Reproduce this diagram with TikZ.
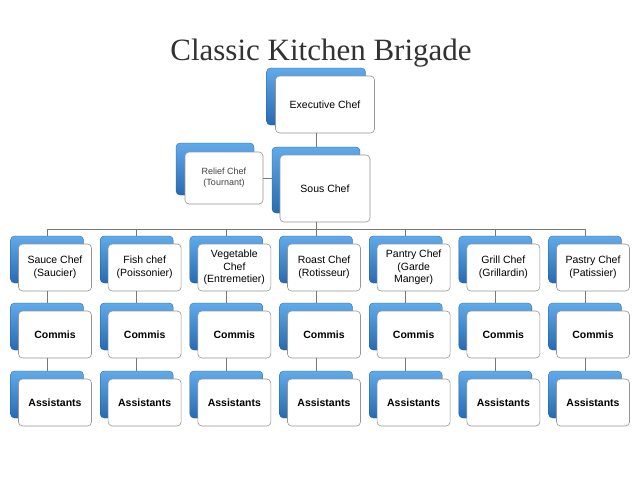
\documentclass[tikz,border=0pt]{standalone}
\usepackage{fontspec}
\setmainfont{Liberation Sans}
\newfontfamily\titlefont{Liberation Serif}
\definecolor{bluetop}{RGB}{96,170,234}
\definecolor{bluebot}{RGB}{40,106,178}
\definecolor{boxline}{RGB}{150,150,150}
\definecolor{linegray}{RGB}{120,120,120}
\definecolor{titlegray}{RGB}{50,50,50}
\begin{document}
\begin{tikzpicture}[x=1pt,y=-1pt,
  back/.style={rounded corners=4pt, top color=bluetop, bottom color=bluebot, draw=bluebot!85!black, line width=0.3pt, minimum width=73pt, minimum height=47pt, inner sep=0pt},
  front/.style={rounded corners=4pt, fill=white, draw=boxline, line width=0.6pt, minimum width=73pt, minimum height=47pt, align=center, inner sep=1pt, font=\fontsize{10.5}{12.5}\selectfont, text=black},
  boldfront/.style={front, font=\fontsize{10.5}{12.5}\selectfont\bfseries},
  conn/.style={draw=linegray, line width=0.8pt}]
\useasboundingbox[fill=white] (0,0) rectangle (640,480);
\node[text=titlegray, font=\titlefont\fontsize{31}{36}\selectfont, anchor=base] (title) at (321,60) {Classic Kitchen Brigade};
% executive
\node[back, minimum width=99pt, minimum height=57pt] (eb) at (316,96.5) {};
\node[front, minimum width=99pt, minimum height=57pt] (ef) at (325,104.5) {Executive Chef};
% sous
\node[back, minimum width=88pt, minimum height=66pt] (sb) at (316,180) {};
\node[front, minimum width=90pt, minimum height=67pt] (sf) at (325,188.5) {Sous Chef};
% relief
\node[back, minimum width=78pt, minimum height=52pt] (rb) at (215,169) {};
\node[front, minimum width=78pt, minimum height=52pt, text=black!75, font=\fontsize{9}{11}\selectfont] (rf) at (224,178) {Relief Chef\\(Tournant)};
\coordinate (bus) at (316,229);
\draw[conn] (ef.south -| sb.north) -- (sb.north);
\draw[conn] (rf.east) -- (rf.east -| sb.west);
\draw[conn] (sf.south -| sb.north) -- (sb.north |- bus);
\foreach [count=\c from 0] \t in {{Sauce Chef\\(Saucier)}, {Fish chef\\(Poissonier)}, {Vegetable\\Chef\\(Entremetier)}, {Roast Chef\\(Rotisseur)}, {Pantry Chef\\(Garde\\Manger)}, {Grill Chef\\(Grillardin)}, {Pastry Chef\\(Patissier)}} {
  \pgfmathsetmacro\xx{47+89.67*\c}
  \node[back] (b1\c) at (\xx,259.5) {};
  \node[front] (f1\c) at (\xx+8,267.5) {\t};
  \node[back] (b2\c) at (\xx,326.5) {};
  \node[boldfront] (f2\c) at (\xx+8,334.5) {Commis};
  \node[back] (b3\c) at (\xx,394.5) {};
  \node[boldfront] (f3\c) at (\xx+8,402.5) {Assistants};
  \draw[conn] (b1\c.north |- bus) -- (b1\c.north);
  \draw[conn] (f1\c.south -| b2\c.north) -- (b2\c.north);
  \draw[conn] (f2\c.south -| b3\c.north) -- (b3\c.north);
}
\draw[conn] (b10.north |- bus) -- (b16.north |- bus);
\end{tikzpicture}
\end{document}
